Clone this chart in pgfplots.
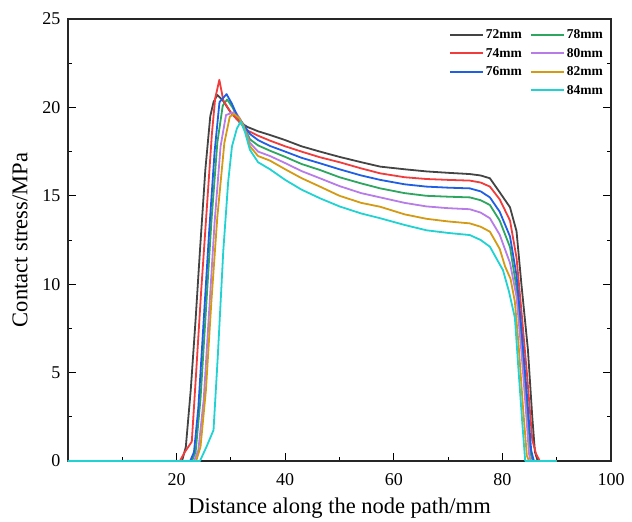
\documentclass[border=0pt]{standalone}
\usepackage{fontspec}
\setmainfont{Liberation Serif}
\usepackage{pgfplots}
\pgfplotsset{compat=1.18}

\definecolor{c72}{HTML}{444444}
\definecolor{c74}{HTML}{F23B3B}
\definecolor{c76}{HTML}{1E5FE6}
\definecolor{c78}{HTML}{2DA660}
\definecolor{c80}{HTML}{B77CE8}
\definecolor{c82}{HTML}{D49A14}
\definecolor{c84}{HTML}{20D2D2}

\tikzset{curve/.style={line width=1.8pt, line join=round}}

\begin{document}
\begin{tikzpicture}
\begin{axis}[
    name=ax,
    scale only axis,
    width=543pt,
    height=442pt,
    xmin=0, xmax=100,
    ymin=0, ymax=25,
    xtick={20,40,60,80,100},
    minor xtick={10,30,50,70,90},
    ytick={0,5,10,15,20,25},
    minor ytick={2.5,7.5,12.5,17.5,22.5},
    xtick pos=left,
    ytick pos=both,
    tick align=inside,
    major tick length=8pt,
    minor tick length=4pt,
    every tick/.style={black, line width=1pt},
    axis line style={line width=1.2pt, black!85},
    tick label style={font=\fontsize{18}{20}\selectfont},
    xticklabel style={yshift=-9pt},
    yticklabel style={xshift=-4pt},
    /pgf/number format/assume math mode=true,
    xlabel={Distance along the node path/mm},
    ylabel={Contact stress/MPa},
    label style={font=\fontsize{22.5}{24}\selectfont},
    xlabel style={at={(axis description cs:0.5,0)}, anchor=center, yshift=-47pt},
    ylabel style={at={(axis description cs:0,0.5)}, anchor=center, xshift=0pt, yshift=48pt},
    legend columns=2,
    legend cell align=left,
    legend style={draw=none, fill=none, at={(rel axis cs:1,1)}, anchor=north east,
        xshift=-3pt, yshift=-6.5pt,
        font=\bfseries\fontsize{13.5}{15}\selectfont, row sep=4pt,
        /tikz/every even column/.append style={column sep=6pt}},
    legend image code/.code={\draw[#1, line width=2pt] (0pt,0pt) -- (33pt,0pt);},
]
\addplot[c72, curve] coordinates {
(0,0)(21,0)(21.7,0.8)(22.6,4)(23.5,8)(24.3,11.9)(25.3,16.5)(26.2,19.5)(26.8,20.3)(27.5,20.7)(28.5,20.4)(30,19.7)(31.5,19.2)(33,18.9)(35,18.65)(37.2,18.44)(40,18.15)(43,17.8)(46.4,17.5)(50,17.2)(54,16.9)(57.5,16.65)(62,16.5)(66,16.38)(70,16.3)(74,16.23)(76,16.15)(77.7,15.99)(79.5,15.2)(81.4,14.35)(82.6,13.0)(83.5,10)(84.7,6.3)(85.5,2.5)(86,0.5)(86.5,0)(90,0)};
\addlegendentry{72mm}
\addplot[c78, curve] coordinates {
(0,0)(22.8,0)(23.5,0.5)(24.4,3.5)(25.4,8.5)(26.4,13.5)(27.5,18)(28.5,20.1)(29.3,20.45)(30.3,20)(31.3,19.4)(32.3,19.0)(33.5,18.2)(35,17.85)(37.2,17.55)(40,17.2)(43,16.8)(46.4,16.46)(50,16.05)(54,15.7)(57.5,15.42)(62,15.15)(66,15.0)(70,14.95)(74,14.91)(76,14.75)(77.7,14.48)(79.5,13.6)(81.4,12.1)(82.6,9.8)(83.5,6.8)(84.5,3.2)(85.2,0.4)(85.6,0)(90,0)};
\addlegendentry{78mm}
\addplot[c74, curve] coordinates {
(0,0)(20.6,0)(21.5,0.5)(22.8,1.1)(23.6,5)(24.5,9.5)(25.5,14)(26.5,18.5)(27.1,20.5)(27.87,21.56)(28.6,20.4)(30,19.7)(31.5,19.2)(33,18.7)(35,18.4)(37.2,18.12)(40,17.8)(43,17.5)(46.4,17.18)(50,16.9)(54,16.55)(57.5,16.27)(62,16.05)(66,15.95)(70,15.9)(74,15.86)(76,15.75)(77.7,15.52)(79.5,14.8)(81.4,13.6)(82.6,11.5)(83.5,8.5)(84.5,5)(85.5,1.2)(86.2,0.4)(86.9,0)(90,0)};
\addlegendentry{74mm}
\addplot[c80, curve] coordinates {
(0,0)(23.2,0)(24,0.6)(25,3.5)(26,8.5)(27,13.5)(28.1,17.8)(29.1,19.57)(30.8,19.76)(31.6,19.4)(32.3,19.0)(33.5,18.0)(35,17.5)(37.2,17.25)(40,16.85)(43,16.4)(46.4,15.99)(50,15.55)(54,15.15)(57.5,14.91)(62,14.6)(66,14.4)(70,14.3)(74,14.24)(76,14.05)(77.7,13.73)(79.5,12.8)(81.4,11.2)(82.6,9.3)(83.5,6.2)(84.3,3)(84.9,0.4)(85.2,0)(90,0)};
\addlegendentry{80mm}
\addplot[c76, curve] coordinates {
(0,0)(22.5,0)(23.2,0.5)(24,3)(25,8)(26,13)(27,17.5)(27.9,20.3)(29.2,20.75)(30.2,20.2)(31.2,19.5)(32.3,19.05)(33.5,18.5)(35,18.15)(37.2,17.82)(40,17.5)(43,17.15)(46.4,16.84)(50,16.5)(54,16.15)(57.5,15.9)(62,15.65)(66,15.52)(70,15.46)(74,15.42)(76,15.25)(77.7,14.91)(79.5,14.1)(81.4,12.7)(82.6,10.5)(83.5,7.5)(84.5,3.8)(85.3,0.6)(85.8,0)(90,0)};
\addlegendentry{76mm}
\addplot[c82, curve] coordinates {
(0,0)(23.6,0)(24.4,0.8)(25.4,4)(26.4,9)(27.5,13.8)(28.8,18)(29.8,19.48)(30.6,19.63)(31.5,19.4)(32.3,19.0)(33.5,17.8)(35,17.25)(37.2,16.99)(40,16.5)(43,16.0)(46.4,15.52)(50,15.0)(54,14.6)(57.5,14.38)(62,13.95)(66,13.7)(70,13.55)(74,13.44)(76,13.25)(77.7,12.97)(79.5,12)(80.5,11)(81.5,10.3)(82.3,9)(83,6.5)(83.8,3)(84.5,0.3)(84.9,0)(90,0)};
\addlegendentry{82mm}
\addlegendimage{empty legend}
\addlegendentry{}
\addplot[c84, curve] coordinates {
(0,0)(24.3,0)(25.5,0.8)(26.8,1.75)(27.6,6)(28.6,11.9)(29.5,15.8)(30.2,17.8)(31.1,18.8)(31.8,19.2)(32.6,18.6)(33.5,17.6)(35,16.9)(37.2,16.5)(40,15.9)(43,15.35)(46.4,14.86)(50,14.4)(54,14.0)(57.5,13.73)(62,13.35)(66,13.05)(70,12.9)(74,12.78)(76,12.5)(77.7,12.12)(79,11.4)(80.1,10.8)(81.2,9.6)(82.3,8.1)(83,5)(83.7,2)(84.2,0)(90,0)};
\addlegendentry{84mm}
\end{axis}
\path (ax.south west) ++(-68pt,-59pt) coordinate (bbl);
\path (ax.north east) ++(21pt,19pt) coordinate (bbr);
\path (bbl) rectangle (bbr);
\end{tikzpicture}
\end{document}
